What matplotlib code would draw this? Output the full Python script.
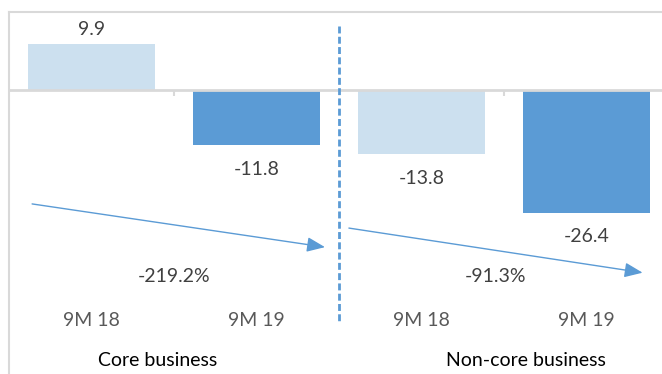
import matplotlib.pyplot as plt

# Data
periods = ['9M 18', '9M 19', '9M 18', '9M 19']
values = [9.9, -11.8, -13.8, -26.4]
groups = ['Core business', 'Non-core business']
changes = ['-219.2%', '-91.3%']

light = '#CCE0EF'
dark = '#5B9BD5'
bar_colors = [light, dark, light, dark]
grid = '#D9D9D9'

plt.rcParams['font.family'] = ['Lato', 'DejaVu Sans']

fig = plt.figure(figsize=(6.62, 3.74), dpi=100)
# plot area runs from x=9px to past the right edge, y=12px to bottom
ax = fig.add_axes([9 / 662, 0, 660 / 662, 362 / 374])
x = list(range(len(values)))
ax.bar(x, values, width=0.77, color=bar_colors, zorder=2)

ax.set_xlim(-0.5, 3.5)
ax.set_ylim(-61.1, 16.8)
ax.set_xticks([])
ax.set_yticks([])
for s in ['right', 'bottom']:
    ax.spines[s].set_visible(False)
for s in ['top', 'left']:
    ax.spines[s].set_color(grid)
    ax.spines[s].set_linewidth(1.5)

# zero line and category ticks
ax.axhline(0, color=grid, lw=2, zorder=3)
ax.vlines([0.5, 2.5], -1.3, 0, color=grid, lw=1.5, zorder=3)

# separator
ax.plot([1.5, 1.5], [13.8, -49.9], color=dark, lw=2, dashes=(2.5, 1.2), zorder=4)

fs = 14
# value labels
for xi, v in zip(x, values):
    y = v + 3.2 if v > 0 else v - 5.2
    ax.text(xi, y, f'{v:.1f}', ha='center', va='center', fontsize=fs, color='#404040')

# period labels
for xi, p in zip(x, periods):
    ax.text(xi, -49.5, p, ha='center', va='center', fontsize=fs, color='#595959')

# trend arrows with change labels
arrows = [((-0.36, -24.5), (1.415, -33.8)), ((1.56, -29.7), (3.34, -39.3))]
for (start, end), lab, cx in zip(arrows, changes, [0.5, 2.45]):
    ax.annotate('', xy=end, xytext=start,
                arrowprops=dict(arrowstyle='-|>,head_length=1.1,head_width=0.45',
                                color=dark, lw=1, shrinkA=0, shrinkB=0))
    ax.text(cx, -40.2, lab, ha='center', va='center', fontsize=fs, color='#404040')

# group labels
for cx, g in zip([0.4, 2.63], groups):
    ax.text(cx, -58.1, g, ha='center', va='center', fontsize=fs, color='black')

fig.savefig('out.png', dpi=100)
